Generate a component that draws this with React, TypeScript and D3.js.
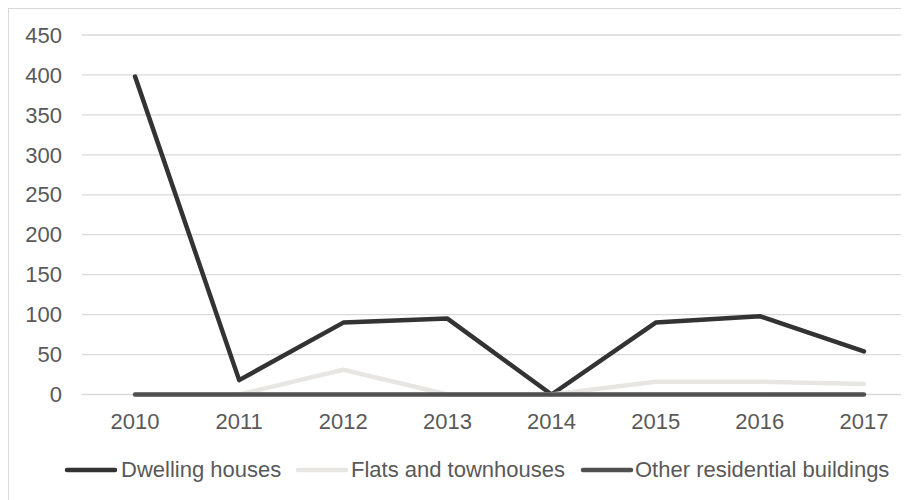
import React from "react";
import * as d3 from "d3";

const years = ["2010", "2011", "2012", "2013", "2014", "2015", "2016", "2017"];
const dwellingHouses = [398, 18, 90, 95, 0, 90, 98, 54];
const flatsAndTownhouses = [0, 0, 31, 0, 0, 16, 16, 13];
const otherResidential = [0, 0, 0, 0, 0, 0, 0, 0];
const yTicks = [0, 50, 100, 150, 200, 250, 300, 350, 400, 450];
const seriesNames = ["Dwelling houses", "Flats and townhouses", "Other residential buildings"];
const seriesColors = ["#333333", "#e7e6e2", "#505050"];

const W = 901;
const H = 492;
const FONT = "'Liberation Sans', Arial, sans-serif";
const FS = 22;

export default function App() {
  const x = d3.scaleBand<string>().domain(years).range([75, 908]);
  const y = d3.scaleLinear().domain([0, 450]).range([386.5, 27]);
  const line = d3
    .line<number>()
    .x((_, i) => (x(years[i]) as number) + x.bandwidth() / 2)
    .y((d) => y(d));
  const allSeries = [dwellingHouses, flatsAndTownhouses, otherResidential];

  const legendItems = [
    { lx: 59, tx: 113 },
    { lx: 290, tx: 343 },
    { lx: 575, tx: 627 },
  ];

  return (
    <svg width={W} height={H} style={{ display: "block", fontFamily: FONT }}>
      <rect x={0.5} y={0.5} width={1000} height={1000} fill="#fff" stroke="#d9d9d9" />
      {yTicks.map((t) => (
        <g key={t}>
          <line x1={74} x2={908} y1={y(t)} y2={y(t)} stroke="#d9d9d9" strokeWidth={1.3} />
          <text x={54} y={y(t)} dy="0.35em" textAnchor="end" fontSize={FS} fill="#595959">
            {t}
          </text>
        </g>
      ))}
      {years.map((yr) => (
        <text
          key={yr}
          x={(x(yr) as number) + x.bandwidth() / 2}
          y={421}
          textAnchor="middle"
          fontSize={FS}
          fill="#595959"
        >
          {yr}
        </text>
      ))}
      {allSeries.map((s, i) => (
        <path
          key={i}
          d={line(s) as string}
          fill="none"
          stroke={seriesColors[i]}
          strokeWidth={4.5}
          strokeLinecap="round"
          strokeLinejoin="round"
        />
      ))}
      {seriesNames.map((n, i) => (
        <g key={n}>
          <line
            x1={legendItems[i].lx}
            x2={legendItems[i].lx + 48}
            y1={462}
            y2={462}
            stroke={seriesColors[i]}
            strokeWidth={4.5}
            strokeLinecap="round"
          />
          <text x={legendItems[i].tx} y={468.5} fontSize={FS} fill="#595959">
            {n}
          </text>
        </g>
      ))}
    </svg>
  );
}
